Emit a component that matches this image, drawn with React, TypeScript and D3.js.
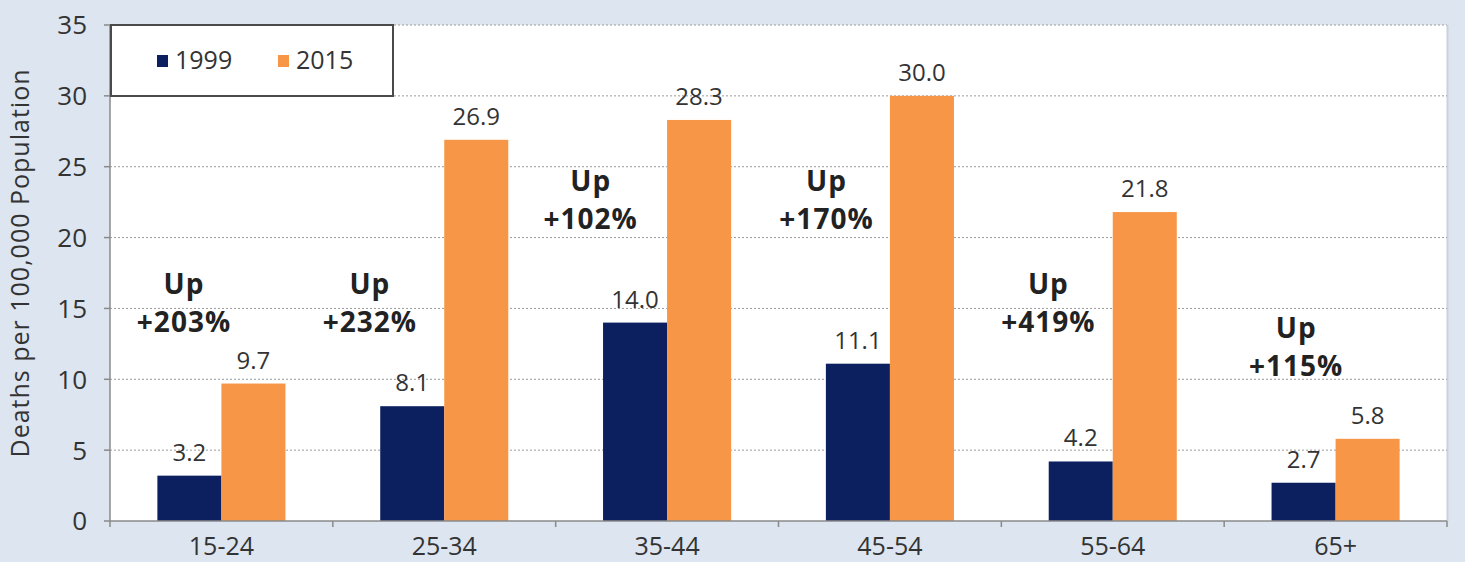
import React from "react";
import * as d3 from "d3";

// Age groups and death rates per 100,000 population
const ageGroups = ["15-24", "25-34", "35-44", "45-54", "55-64", "65+"];
const years = ["1999", "2015"];
const rates1999 = [3.2, 8.1, 14.0, 11.1, 4.2, 2.7];
const rates2015 = [9.7, 26.9, 28.3, 30.0, 21.8, 5.8];
const changeLabels = ["+203%", "+232%", "+102%", "+170%", "+419%", "+115%"];
const yTicks = [0, 5, 10, 15, 20, 25, 30, 35];

// Placement of the "Up ..." callouts: horizontal offset inside the group band (px)
// and the first line's baseline in data units
const calloutLayout = [
  { dx: 74, y: 16.0 },
  { dx: 37, y: 16.0 },
  { dx: 35, y: 23.3 },
  { dx: 48, y: 23.3 },
  { dx: 47, y: 16.0 },
  { dx: 72, y: 12.9 },
];

const W = 1465;
const H = 562;
const margin = { top: 25, right: 18, bottom: 41, left: 110 };
const colors = ["#0c1f5e", "#f79646"];
const bg = "#dce5f0";
const textColor = "#333333";
const font = "'Open Sans', 'Noto Sans', sans-serif";

export default function App() {
  const x0 = d3
    .scaleBand<string>()
    .domain(ageGroups)
    .range([margin.left, W - margin.right])
    .paddingInner(0)
    .paddingOuter(0);
  const x1 = d3
    .scaleBand<string>()
    .domain(years)
    .range([0, x0.bandwidth()])
    .paddingInner(0)
    .paddingOuter(0.74);
  const y = d3
    .scaleLinear()
    .domain([0, 35])
    .range([H - margin.bottom, margin.top]);

  const series = [rates1999, rates2015];
  const plotLeft = margin.left;
  const plotRight = W - margin.right;
  const plotTop = margin.top;
  const plotBottom = H - margin.bottom;

  const boundaries = [...ageGroups.map((g) => x0(g)!), plotRight];

  return (
    <svg
      width={W}
      height={H}
      style={{ position: "absolute", left: 0, top: 0, fontFamily: font }}
    >
      <rect x={0} y={0} width={W} height={H} fill={bg} />
      {/* plot area */}
      <rect
        x={plotLeft}
        y={plotTop}
        width={plotRight - plotLeft}
        height={plotBottom - plotTop}
        fill="#ffffff"
      />
      <line
        x1={plotRight + 0.5}
        x2={plotRight + 0.5}
        y1={plotTop}
        y2={plotBottom}
        stroke="#c9d1db"
        strokeWidth={2}
      />

      {/* gridlines */}
      {yTicks
        .filter((t) => t > 0)
        .map((t) => (
          <line
            key={`g${t}`}
            x1={plotLeft}
            x2={plotRight}
            y1={y(t)}
            y2={y(t)}
            stroke="#9a9a9a"
            strokeWidth={1}
            strokeDasharray="2,2"
          />
        ))}

      {/* y axis */}
      <line
        x1={plotLeft}
        x2={plotLeft}
        y1={plotTop}
        y2={plotBottom}
        stroke="#8a8a8a"
        strokeWidth={1.5}
      />
      {yTicks.map((t) => (
        <g key={`yt${t}`}>
          <line
            x1={plotLeft - 6}
            x2={plotLeft}
            y1={y(t)}
            y2={y(t)}
            stroke="#8a8a8a"
            strokeWidth={1.5}
          />
          <text
            x={plotLeft - 23}
            y={y(t)}
            dy="0.36em"
            textAnchor="end"
            fontSize={26}
            fill={textColor}
          >
            {t}
          </text>
        </g>
      ))}
      <text
        transform={`translate(29,${(plotTop + plotBottom) / 2 - 10}) rotate(-90)`}
        textAnchor="middle"
        fontSize={25}
        letterSpacing={1}
        fill={textColor}
      >
        Deaths per 100,000 Population
      </text>

      {/* bars */}
      {ageGroups.map((g, i) => (
        <g key={`bar${g}`} transform={`translate(${x0(g)},0)`}>
          {years.map((yr, s) => {
            const v = series[s][i];
            return (
              <rect
                key={yr}
                x={x1(yr)}
                y={y(v)}
                width={x1.bandwidth()}
                height={y(0) - y(v)}
                fill={colors[s]}
              />
            );
          })}
          {years.map((yr, s) => {
            const v = series[s][i];
            return (
              <text
                key={`l${yr}`}
                x={x1(yr)! + x1.bandwidth() / 2}
                y={y(v) - 15}
                textAnchor="middle"
                fontSize={24}
                fill={textColor}
              >
                {v.toFixed(1)}
              </text>
            );
          })}
        </g>
      ))}

      {/* x axis */}
      <line
        x1={plotLeft}
        x2={plotRight}
        y1={plotBottom}
        y2={plotBottom}
        stroke="#8a8a8a"
        strokeWidth={1.5}
      />
      {boundaries.map((bx, i) => (
        <line
          key={`xt${i}`}
          x1={bx}
          x2={bx}
          y1={plotBottom}
          y2={plotBottom + 6}
          stroke="#8a8a8a"
          strokeWidth={1.5}
        />
      ))}
      {ageGroups.map((g) => (
        <text
          key={`xl${g}`}
          x={x0(g)! + x0.bandwidth() / 2}
          y={plotBottom + 34}
          textAnchor="middle"
          fontSize={25}
          fill={textColor}
        >
          {g}
        </text>
      ))}

      {/* callouts */}
      {ageGroups.map((g, i) => {
        const cx = x0(g)! + calloutLayout[i].dx;
        const by = y(calloutLayout[i].y);
        return (
          <text
            key={`c${g}`}
            textAnchor="middle"
            fontSize={28}
            letterSpacing={1}
            fontWeight={700}
            fill="#222222"
          >
            <tspan x={cx} y={by}>
              Up
            </tspan>
            <tspan x={cx} y={by + 38}>
              {changeLabels[i]}
            </tspan>
          </text>
        );
      })}

      {/* legend */}
      <rect
        x={plotLeft + 1}
        y={plotTop}
        width={282}
        height={71}
        fill="#ffffff"
        stroke="#4a4a4a"
        strokeWidth={2}
      />
      {years.map((yr, s) => {
        const lx = plotLeft + 47 + s * 121;
        return (
          <g key={`lg${yr}`}>
            <rect x={lx} y={plotTop + 30} width={11} height={12} fill={colors[s]} />
            <text x={lx + 18} y={plotTop + 44} fontSize={25} fill={textColor}>
              {yr}
            </text>
          </g>
        );
      })}
    </svg>
  );
}
